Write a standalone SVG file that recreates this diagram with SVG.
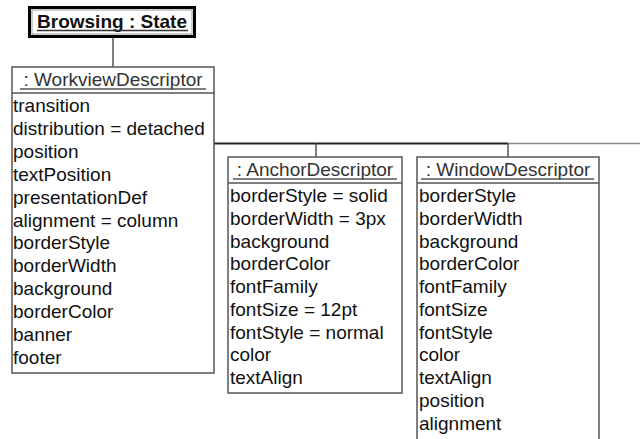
<svg xmlns="http://www.w3.org/2000/svg" width="640" height="439" viewBox="0 0 640 439">
  <style>
    .box { fill: #ffffff; stroke: #555555; stroke-width: 1.5; }
    .sep { stroke: #555555; stroke-width: 1.5; }
    .ul { stroke: #555555; stroke-width: 1.3; }
    .hdr { font-family: "Liberation Sans", Arial, sans-serif; font-size: 19px; fill: #333333; text-anchor: middle; }
    .attr { font-family: "Liberation Sans", Arial, sans-serif; font-size: 19px; fill: #111111; }
    .state { font-family: "Liberation Sans", Arial, sans-serif; font-size: 19px; font-weight: bold; fill: #111111; text-anchor: middle; }
    .link { stroke: #555555; stroke-width: 1.5; fill: none; }
  </style>

  <!-- connectors -->
  <g id="connectors">
    <line class="link" x1="113" y1="36" x2="113" y2="67"/>
    <line x1="214" y1="143.5" x2="508" y2="143.5" stroke="#222222" stroke-width="2"/>
    <line x1="508" y1="143.5" x2="640" y2="143.5" stroke="#888888" stroke-width="1.5"/>
    <line class="link" x1="316" y1="143.5" x2="316" y2="157"/>
    <line class="link" x1="508" y1="143.5" x2="508" y2="157"/>
  </g>

  <!-- state object -->
  <g id="browsing-state">
    <rect x="29.5" y="7.5" width="165" height="29" fill="#ffffff" stroke="#000000" stroke-width="3"/>
    <rect x="32" y="10" width="160" height="24" fill="none" stroke="#999999" stroke-width="1"/>
    <text class="state" x="112" y="27.5">Browsing : State</text>
    <line x1="37" y1="30.5" x2="188" y2="30.5" stroke="#333333" stroke-width="1.3"/>
  </g>

  <!-- workview descriptor -->
  <g id="workview-descriptor">
    <rect class="box" x="12" y="67" width="202" height="306"/>
    <line class="sep" x1="12" y1="93" x2="214" y2="93"/>
    <text class="hdr" x="113" y="86">: WorkviewDescriptor</text>
    <line class="ul" x1="20" y1="89" x2="206" y2="89"/>
    <text class="attr" x="13" y="112">transition</text>
    <text class="attr" x="13" y="134.9">distribution = detached</text>
    <text class="attr" x="13" y="157.8">position</text>
    <text class="attr" x="13" y="180.7">textPosition</text>
    <text class="attr" x="13" y="203.6">presentationDef</text>
    <text class="attr" x="13" y="226.5">alignment = column</text>
    <text class="attr" x="13" y="249.4">borderStyle</text>
    <text class="attr" x="13" y="272.3">borderWidth</text>
    <text class="attr" x="13" y="295.2">background</text>
    <text class="attr" x="13" y="318.1">borderColor</text>
    <text class="attr" x="13" y="341">banner</text>
    <text class="attr" x="13" y="363.9">footer</text>
  </g>

  <!-- anchor descriptor -->
  <g id="anchor-descriptor">
    <rect class="box" x="228" y="157" width="174" height="236"/>
    <line class="sep" x1="228" y1="183" x2="402" y2="183"/>
    <text class="hdr" x="315" y="176">: AnchorDescriptor</text>
    <line class="ul" x1="233" y1="179" x2="397" y2="179"/>
    <text class="attr" x="230" y="202">borderStyle = solid</text>
    <text class="attr" x="230" y="224.75">borderWidth = 3px</text>
    <text class="attr" x="230" y="247.5">background</text>
    <text class="attr" x="230" y="270.25">borderColor</text>
    <text class="attr" x="230" y="293">fontFamily</text>
    <text class="attr" x="230" y="315.75">fontSize = 12pt</text>
    <text class="attr" x="230" y="338.5">fontStyle = normal</text>
    <text class="attr" x="230" y="361.25">color</text>
    <text class="attr" x="230" y="384">textAlign</text>
  </g>

  <!-- window descriptor -->
  <g id="window-descriptor">
    <rect class="box" x="417" y="157" width="182" height="300"/>
    <line class="sep" x1="417" y1="183" x2="599" y2="183"/>
    <text class="hdr" x="508" y="176">: WindowDescriptor</text>
    <line class="ul" x1="421" y1="179" x2="594" y2="179"/>
    <text class="attr" x="419" y="202">borderStyle</text>
    <text class="attr" x="419" y="224.75">borderWidth</text>
    <text class="attr" x="419" y="247.5">background</text>
    <text class="attr" x="419" y="270.25">borderColor</text>
    <text class="attr" x="419" y="293">fontFamily</text>
    <text class="attr" x="419" y="315.75">fontSize</text>
    <text class="attr" x="419" y="338.5">fontStyle</text>
    <text class="attr" x="419" y="361.25">color</text>
    <text class="attr" x="419" y="384">textAlign</text>
    <text class="attr" x="419" y="406.75">position</text>
    <text class="attr" x="419" y="429.5">alignment</text>
  </g>
</svg>
